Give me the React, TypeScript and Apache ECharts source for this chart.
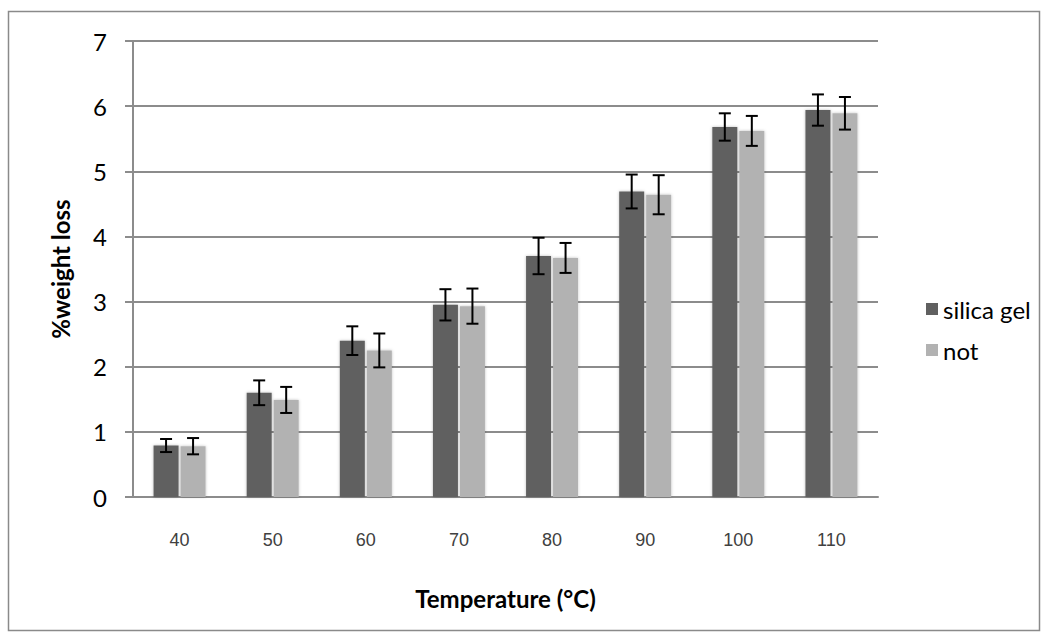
import React, { useEffect, useRef } from "react";
import * as echarts from "echarts";

const categories = ["40", "50", "60", "70", "80", "90", "100", "110"];
const silicaGel = [0.79, 1.6, 2.4, 2.95, 3.7, 4.69, 5.68, 5.94];
const silicaErr = [0.1, 0.19, 0.22, 0.24, 0.28, 0.26, 0.21, 0.24];
const notValues = [0.78, 1.49, 2.25, 2.93, 3.67, 4.64, 5.62, 5.89];
const notErr = [0.125, 0.2, 0.26, 0.27, 0.23, 0.3, 0.23, 0.25];
const yTicks = { min: 0, max: 7, interval: 1 };

const BAR_W = 25;
const OFFSET = 13.5;

function errorSeries(name: string, values: number[], errs: number[], offset: number) {
  return {
    type: "custom",
    name: name + "-err",
    z: 10,
    silent: true,
    data: values.map((v, i) => [i, v - errs[i], v + errs[i]]),
    renderItem: (params: any, api: any) => {
      const i = api.value(0);
      const lo = api.coord([i, api.value(1)]);
      const hi = api.coord([i, api.value(2)]);
      const x = lo[0] + offset;
      const cap = 6;
      const style = { stroke: "#000", lineWidth: 2 };
      return {
        type: "group",
        children: [
          { type: "line", shape: { x1: x, y1: lo[1], x2: x, y2: hi[1] }, style },
          { type: "line", shape: { x1: x - cap, y1: lo[1], x2: x + cap, y2: lo[1] }, style },
          { type: "line", shape: { x1: x - cap, y1: hi[1], x2: x + cap, y2: hi[1] }, style },
        ],
      };
    },
  };
}

export default function App() {
  const ref = useRef<HTMLDivElement>(null);
  useEffect(() => {
    if (!ref.current) return;
    const chart = echarts.init(ref.current, null, { renderer: "svg" });
    chart.setOption({
      animation: false,
      backgroundColor: "#ffffff",
      graphic: [
        {
          type: "rect",
          shape: { x: 8.5, y: 11.5, width: 1031, height: 619 },
          style: { fill: "none", stroke: "#8a8a8a", lineWidth: 1.5 },
          silent: true,
        },
      ],
      grid: { left: 133, right: 170, top: 41, bottom: 140, containLabel: false },
      legend: {
        orient: "vertical",
        left: 921,
        top: 292,
        itemWidth: 12,
        itemHeight: 12,
        itemGap: 17,
        icon: "rect",
        data: ["silica gel", "not"],
        textStyle: { fontFamily: "Lato", fontSize: 24, color: "#000", padding: [0, 0, 0, 0] },
      },
      xAxis: {
        type: "category",
        data: categories,
        name: "Temperature (°C)",
        nameLocation: "middle",
        nameGap: 89,
        nameTextStyle: { fontFamily: "Lato", fontSize: 24, fontWeight: "bold", color: "#000" },
        axisLine: { lineStyle: { color: "#8c8c8c", width: 2 } },
        axisTick: { show: false },
        axisLabel: { fontFamily: "Liberation Sans", fontSize: 18, color: "#404040", margin: 34 },
      },
      yAxis: {
        type: "value",
        min: yTicks.min,
        max: yTicks.max,
        interval: yTicks.interval,
        name: "%weight loss",
        nameLocation: "middle",
        nameGap: 61,
        nameTextStyle: { fontFamily: "Lato", fontSize: 24, fontWeight: "bold", color: "#000" },
        axisLine: { show: true, lineStyle: { color: "#8c8c8c", width: 2 } },
        axisTick: { show: true, inside: false, length: 8, lineStyle: { color: "#8c8c8c", width: 2 } },
        axisLabel: { fontFamily: "Lato", fontSize: 24, color: "#000", margin: 26 },
        splitLine: { show: true, lineStyle: { color: "#8c8c8c", width: 2 } },
      },
      series: [
        {
          type: "bar",
          name: "silica gel",
          data: silicaGel,
          barWidth: BAR_W,
          barGap: "8%",
          itemStyle: { color: "#606060", shadowColor: "rgba(0,0,0,0.25)", shadowBlur: 3 },
        },
        {
          type: "bar",
          name: "not",
          data: notValues,
          barWidth: BAR_W,
          itemStyle: { color: "#b2b2b2", shadowColor: "rgba(0,0,0,0.25)", shadowBlur: 3 },
        },
        errorSeries("silica gel", silicaGel, silicaErr, -OFFSET),
        errorSeries("not", notValues, notErr, OFFSET),
      ],
    });
    return () => chart.dispose();
  }, []);
  return (
    <div
      ref={ref}
      style={{ position: "fixed", left: 0, top: 0, width: 1048, height: 637 }}
    />
  );
}
